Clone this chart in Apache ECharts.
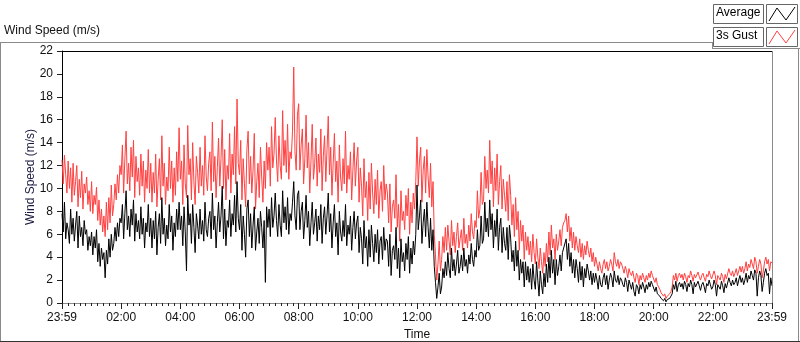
<!DOCTYPE html>
<html>
<head>
<meta charset="utf-8">
<script src="https://cdn.jsdelivr.net/npm/echarts@6/dist/echarts.min.js"></script>
<style>
  html, body { margin: 0; padding: 0; background: #fff; }
  #chart { width: 800px; height: 342px; }
</style>
</head>
<body>
<div id="chart"></div>
<script>
// one sample every 2.5 min, from 23:59 (minute 0) to 23:59 next day (minute 1440), one row per hour
var stepMin = 2.5;
var gust = [
  12.5, 10.4, 12.9, 11.2, 9.6, 12.4, 10.0, 11.8, 8.8, 12.2, 9.4, 10.6, 12.0, 8.4, 10.8, 9.2, 11.5, 8.2, 10.4, 9.6, 11.0, 8.6, 9.8, 8.0,
  10.6, 7.8, 9.4, 8.6, 10.1, 7.2, 9.0, 6.8, 8.2, 6.2, 7.6, 5.8, 8.8, 6.4, 9.2, 7.0, 10.3, 7.6, 8.6, 10.4, 9.0, 11.2, 9.6, 12.0,
  11.2, 13.8, 9.6, 12.6, 15.0, 10.4, 12.2, 9.8, 13.6, 11.0, 14.2, 9.2, 12.8, 10.6, 11.8, 9.4, 13.0, 10.2, 12.4, 8.8, 11.6, 10.0, 13.4, 9.6,
  12.2, 8.8, 11.4, 9.6, 13.0, 8.4, 10.8, 12.6, 9.0, 14.6, 10.2, 12.2, 8.6, 11.0, 9.8, 13.6, 10.0, 12.4, 8.8, 11.8, 9.4, 13.2, 10.6, 15.3,
  10.8, 12.4, 8.6, 13.8, 10.4, 9.2, 15.5, 11.2, 12.6, 9.0, 14.0, 10.6, 8.6, 12.8, 11.4, 9.6, 13.6, 10.2, 12.0, 9.4, 14.6, 11.0, 9.8, 12.2,
  13.2, 9.8, 15.8, 10.6, 12.8, 9.2, 11.8, 14.4, 10.2, 12.6, 16.0, 10.0, 13.4, 9.0, 12.0, 10.8, 14.8, 9.6, 13.0, 11.2, 15.4, 10.4, 17.8, 12.2,
  11.2, 14.2, 9.0, 12.6, 10.4, 8.4, 13.4, 15.0, 10.4, 12.8, 9.6, 11.6, 14.8, 8.2, 10.6, 12.2, 9.2, 13.6, 11.0, 8.8, 12.4, 10.0, 14.0, 11.6,
  13.6, 10.2, 15.4, 11.8, 13.0, 16.2, 12.4, 10.6, 14.6, 12.0, 10.8, 16.8, 12.0, 14.2, 11.4, 15.6, 10.8, 13.2, 12.6, 15.0, 20.6, 13.2, 11.6, 16.4,
  17.4, 11.6, 13.8, 15.2, 10.4, 12.6, 16.4, 11.8, 14.0, 9.6, 12.4, 15.6, 10.8, 12.2, 14.4, 10.2, 13.0, 11.4, 15.2, 9.8, 12.8, 14.6, 10.6, 13.4,
  16.3, 11.2, 13.6, 9.4, 12.2, 14.8, 10.6, 12.4, 8.8, 13.8, 11.0, 9.8, 12.6, 10.4, 15.0, 9.6, 12.0, 10.8, 13.2, 9.0, 11.6, 14.0, 10.2, 12.4,
  13.6, 8.8, 11.8, 10.2, 7.6, 12.6, 9.2, 10.6, 7.2, 11.4, 8.2, 12.2, 9.6, 7.8, 10.8, 8.6, 11.6, 7.4, 9.8, 10.6, 8.0, 12.0, 9.0, 10.4,
  9.6, 7.0, 10.4, 6.2, 8.4, 9.0, 7.4, 11.2, 6.6, 8.6, 5.4, 9.8, 7.2, 8.0, 6.4, 9.4, 7.6, 10.0, 6.0, 8.8, 7.0, 9.6, 8.2, 10.6,
  14.5, 10.2, 12.4, 13.6, 8.8, 11.6, 12.8, 9.6, 13.4, 11.0, 9.2, 12.2, 8.4, 10.6, 6.0, 4.2, 2.0, 3.4, 5.4, 2.8, 3.8, 5.8, 4.4, 6.6,
  4.6, 6.8, 5.4, 4.2, 7.2, 5.0, 6.2, 4.4, 5.8, 7.0, 4.8, 5.6, 6.4, 4.6, 7.4, 5.2, 6.0, 4.8, 6.8, 5.4, 7.8, 6.2, 5.6, 7.2,
  6.6, 9.8, 7.4, 8.2, 11.4, 8.6, 9.0, 12.8, 10.0, 11.6, 9.6, 14.2, 10.4, 12.4, 8.4, 11.8, 9.8, 13.0, 8.6, 10.6, 12.0, 8.2, 10.8, 9.4,
  8.0, 10.6, 7.2, 11.2, 9.4, 6.8, 8.6, 5.8, 9.2, 6.4, 8.0, 4.6, 7.2, 5.4, 6.8, 3.8, 6.2, 4.6, 5.8, 4.2, 5.4, 3.6, 6.0, 4.4,
  3.4, 5.6, 4.0, 3.0, 4.8, 3.6, 2.6, 4.4, 3.2, 5.2, 3.6, 6.2, 4.2, 6.8, 4.8, 5.6, 3.8, 6.0, 4.6, 5.4, 6.4, 5.0, 6.6, 7.0,
  7.2, 7.8, 6.2, 7.6, 5.4, 6.6, 4.8, 6.2, 4.6, 5.8, 5.0, 4.4, 5.6, 4.0, 5.2, 3.8, 5.0, 4.2, 5.4, 4.6, 4.0, 4.8, 3.6, 4.4,
  3.2, 4.0, 3.4, 2.8, 3.6, 3.0, 2.6, 3.4, 3.8, 3.0, 3.6, 2.8, 3.2, 3.8, 3.4, 2.8, 4.4, 3.6, 3.2, 3.8, 3.0, 3.6, 3.4, 3.0,
  2.6, 3.2, 2.8, 2.2, 3.0, 2.6, 2.4, 2.8, 2.2, 1.8, 2.6, 2.4, 1.6, 2.4, 2.0, 2.6, 2.2, 1.8, 2.4, 2.0, 2.6, 2.2, 2.8, 2.4,
  2.4, 1.8, 2.2, 1.6, 1.4, 1.2, 0.9, 1.0, 0.6, 0.8, 0.4, 0.6, 0.5, 0.8, 1.0, 1.4, 2.4, 2.0, 2.6, 1.9, 2.4, 2.6, 2.2, 2.5,
  2.0, 2.6, 2.3, 1.8, 2.4, 2.2, 2.8, 2.4, 1.9, 2.5, 2.2, 2.1, 2.7, 2.3, 2.0, 2.4, 2.6, 2.2, 1.9, 2.5, 2.3, 2.8, 2.4, 2.1,
  2.2, 2.8, 2.4, 1.6, 2.4, 2.2, 2.0, 2.6, 2.3, 1.8, 2.5, 2.1, 2.2, 3.0, 2.6, 2.4, 2.8, 2.3, 2.6, 3.0, 2.4, 2.8, 3.2, 2.7,
  3.2, 2.6, 3.0, 3.6, 2.8, 3.4, 3.1, 3.8, 3.4, 3.0, 4.0, 3.6, 2.6, 3.2, 3.8, 3.4, 2.2, 2.8, 3.6, 4.0, 3.4, 3.8, 2.8, 3.6,
  3.5
];
var average = [
  7.8, 6.2, 8.8, 5.6, 7.0, 6.4, 5.2, 8.2, 6.0, 7.4, 5.4, 6.8, 8.0, 4.8, 7.6, 5.8, 6.6, 5.0, 7.2, 6.0, 6.4, 4.6, 5.8, 5.0,
  6.2, 4.2, 5.8, 4.8, 6.4, 3.6, 5.2, 3.2, 4.8, 3.8, 4.4, 2.2, 4.6, 3.4, 5.6, 4.0, 6.0, 4.6, 5.2, 6.6, 5.4, 7.0, 5.8, 7.4,
  7.0, 8.6, 5.6, 7.8, 9.8, 6.4, 7.6, 5.8, 8.2, 6.8, 9.0, 5.4, 7.8, 6.2, 7.2, 5.6, 8.4, 6.0, 7.4, 4.8, 7.0, 6.2, 8.6, 5.8,
  7.4, 4.8, 7.2, 5.6, 8.0, 4.2, 6.6, 7.8, 5.2, 9.2, 6.0, 7.4, 5.0, 6.8, 5.6, 8.6, 6.2, 7.6, 4.6, 7.0, 5.8, 8.2, 6.4, 8.8,
  6.4, 7.6, 5.0, 8.4, 6.2, 2.8, 9.4, 6.8, 7.8, 5.2, 8.6, 6.6, 4.4, 7.8, 6.8, 5.6, 8.2, 6.0, 7.2, 5.4, 8.8, 6.4, 5.8, 7.4,
  8.0, 5.6, 9.6, 6.4, 7.6, 4.8, 7.0, 8.8, 6.2, 7.6, 10.2, 5.6, 8.2, 5.0, 7.2, 6.6, 9.0, 5.8, 7.8, 6.8, 9.4, 6.2, 10.6, 7.4,
  6.4, 8.6, 4.6, 7.6, 6.0, 4.0, 8.2, 9.0, 5.8, 7.8, 4.8, 6.8, 8.4, 4.6, 6.2, 7.4, 5.2, 8.0, 6.6, 4.8, 7.2, 1.8, 8.4, 6.6,
  8.2, 5.8, 9.2, 6.6, 7.6, 9.6, 7.2, 5.8, 8.6, 6.8, 5.8, 9.8, 7.0, 8.4, 6.4, 9.2, 6.0, 7.8, 7.2, 8.8, 10.6, 7.6, 6.4, 9.4,
  9.8, 6.4, 8.0, 8.8, 5.6, 7.2, 9.4, 6.6, 8.0, 5.0, 7.0, 8.8, 6.0, 7.0, 8.2, 5.4, 7.6, 6.4, 8.6, 5.2, 7.4, 8.4, 6.0, 7.6,
  9.6, 6.2, 7.8, 4.8, 7.0, 8.6, 5.8, 7.0, 4.2, 8.0, 6.2, 5.4, 7.2, 5.8, 8.6, 5.0, 6.8, 6.0, 7.6, 4.6, 6.6, 8.0, 5.6, 7.0,
  7.6, 4.4, 6.6, 5.6, 3.4, 7.2, 4.8, 5.8, 3.2, 6.4, 4.0, 6.8, 5.2, 3.6, 6.0, 4.4, 6.4, 3.4, 5.4, 5.8, 3.8, 6.6, 4.6, 5.6,
  5.4, 3.2, 6.0, 2.4, 4.6, 5.0, 3.8, 6.6, 3.0, 4.8, 2.2, 5.6, 3.6, 4.4, 2.8, 5.2, 3.8, 5.8, 2.6, 4.8, 3.4, 5.4, 4.2, 6.0,
  10.3, 6.4, 7.6, 9.0, 5.2, 7.0, 8.2, 5.8, 8.8, 6.6, 4.8, 7.4, 4.6, 6.4, 3.2, 1.8, 0.4, 1.4, 2.6, 0.8, 1.4, 3.0, 2.2, 3.6,
  2.4, 4.4, 3.0, 2.2, 4.8, 2.8, 3.8, 2.4, 3.4, 4.6, 2.6, 3.2, 4.2, 2.8, 4.8, 3.2, 3.8, 2.6, 4.2, 3.4, 5.2, 3.8, 3.2, 4.6,
  4.0, 6.4, 4.6, 5.0, 7.6, 5.2, 5.6, 8.8, 6.2, 7.4, 5.8, 9.0, 6.4, 7.8, 4.8, 7.2, 5.8, 8.2, 4.6, 6.6, 7.4, 4.4, 6.6, 5.2,
  4.6, 6.6, 3.8, 6.8, 5.6, 3.6, 4.6, 2.8, 5.4, 3.2, 4.6, 2.0, 3.8, 2.6, 3.6, 1.4, 3.6, 2.0, 3.2, 1.8, 3.0, 1.2, 3.4, 2.0,
  1.2, 3.6, 2.0, 0.6, 2.8, 1.6, 0.8, 2.6, 1.4, 3.4, 1.8, 4.0, 2.2, 4.6, 2.6, 3.8, 1.6, 3.8, 2.4, 3.2, 4.2, 2.8, 4.4, 4.8,
  4.8, 5.6, 3.8, 5.2, 3.2, 4.4, 2.6, 3.8, 2.2, 3.8, 3.0, 1.8, 3.6, 2.0, 3.2, 1.4, 3.0, 2.2, 3.4, 2.8, 2.0, 2.8, 1.6, 2.6,
  1.8, 2.6, 2.0, 1.2, 2.4, 1.6, 1.4, 2.2, 2.6, 1.6, 2.4, 1.2, 2.0, 2.6, 2.2, 1.4, 2.8, 2.0, 1.8, 2.4, 1.6, 2.2, 2.0, 1.6,
  1.4, 2.2, 1.8, 1.0, 2.0, 1.6, 1.2, 1.8, 1.0, 0.6, 1.6, 1.4, 0.8, 1.6, 1.2, 1.8, 1.4, 0.9, 1.6, 1.2, 1.8, 1.4, 1.9, 1.6,
  1.6, 1.0, 1.4, 0.8, 0.8, 0.6, 0.4, 0.5, 0.2, 0.4, 0.1, 0.3, 0.2, 0.4, 0.6, 0.8, 1.6, 1.2, 1.9, 1.0, 1.6, 1.8, 1.4, 1.7,
  1.2, 1.9, 1.6, 1.0, 1.7, 1.4, 2.0, 1.6, 0.8, 1.8, 1.4, 1.3, 1.9, 1.5, 1.1, 1.6, 1.8, 1.4, 0.9, 1.7, 1.5, 2.0, 1.6, 1.2,
  1.4, 2.0, 1.6, 0.6, 1.6, 1.4, 1.2, 1.9, 1.5, 0.9, 1.7, 1.3, 1.4, 2.2, 1.8, 1.5, 2.0, 1.6, 1.8, 2.2, 1.5, 2.0, 2.4, 1.8,
  2.2, 1.6, 2.0, 2.6, 1.8, 2.4, 2.1, 2.8, 2.4, 2.0, 2.9, 2.6, 0.6, 2.2, 2.8, 2.4, 1.0, 1.8, 2.6, 3.0, 2.4, 2.6, 0.8, 2.2,
  1.5
];
var legendNames = ['Average', '3s Gust'];

function toPairs(arr) {
  var out = [];
  for (var i = 0; i < arr.length; i++) out.push([i * stepMin, arr[i]]);
  return out;
}
function timeLabel(v) {
  if (v === 0 || v === 1440) return '23:59';
  var h = Math.round(v / 60);
  return (h < 10 ? '0' : '') + h + ':00';
}

var font = 'Liberation Sans';
var gray = '#8a8a8a';
var myChart = echarts.init(document.getElementById('chart'));
var L = 62, T = 51, R = 772, B = 303;

var option = {
  animation: false,
  backgroundColor: '#fff',
  grid: { left: L, top: T, width: R - L, height: B - T, containLabel: false, outerBoundsMode: 'none' },
  xAxis: {
    type: 'value', min: 0, max: 1440, interval: 120,
    name: 'Time', nameLocation: 'middle', nameGap: 26, nameMoveOverlap: false,
    nameTextStyle: { color: '#111', fontFamily: font, fontSize: 12 },
    axisLine: { lineStyle: { color: gray, width: 1 } },
    axisTick: { length: 6, lineStyle: { color: '#222' } },
    minorTick: { show: true, splitNumber: 10, length: 3, lineStyle: { color: '#222' } },
    axisLabel: { formatter: timeLabel, color: '#111', fontFamily: font, fontSize: 12, margin: 9, showMinLabel: true, showMaxLabel: true },
    splitLine: { show: false }
  },
  yAxis: {
    type: 'value', min: 0, max: 22, interval: 2,
    name: 'Wind Speed (m/s)', nameLocation: 'middle', nameGap: 25, nameRotate: 90, nameMoveOverlap: false,
    nameTextStyle: { color: '#1a1a40', fontFamily: font, fontSize: 12 },
    axisLine: { show: true, lineStyle: { color: '#000', width: 1 } },
    axisTick: { show: true, length: 5, lineStyle: { color: '#222' } },
    axisLabel: { color: '#111', fontFamily: font, fontSize: 12, margin: 9 },
    splitLine: { show: false }
  },
  series: [
    {
      name: legendNames[1], type: 'line', data: toPairs(gust), showSymbol: false,
      lineStyle: { color: '#ff4040', width: 1 }, z: 2
    },
    {
      name: legendNames[0], type: 'line', data: toPairs(average), showSymbol: false,
      lineStyle: { color: '#000', width: 1 }, z: 3
    }
  ],
  graphic: [
    { type: 'text', left: 4, top: 25, style: { text: 'Wind Speed (m/s)', font: '12px ' + font, fill: '#111' } },
    // outer frame
    { type: 'line', shape: { x1: 0, y1: 42.5, x2: 712, y2: 42.5 }, style: { stroke: gray, lineWidth: 1 } },
    { type: 'line', shape: { x1: 712, y1: 48.5, x2: 800, y2: 48.5 }, style: { stroke: gray, lineWidth: 1 } },
    { type: 'line', shape: { x1: 712.5, y1: 42, x2: 712.5, y2: 49 }, style: { stroke: gray, lineWidth: 1 } },
    { type: 'line', shape: { x1: 0.5, y1: 42, x2: 0.5, y2: 342 }, style: { stroke: gray, lineWidth: 1 } },
    { type: 'line', shape: { x1: 798.5, y1: 48, x2: 798.5, y2: 342 }, style: { stroke: gray, lineWidth: 1 } },
    { type: 'line', shape: { x1: 0, y1: 341.5, x2: 800, y2: 341.5 }, style: { stroke: '#333', lineWidth: 1 } },
    // plot frame: top black, right gray
    { type: 'line', shape: { x1: L, y1: T + 0.5, x2: R, y2: T + 0.5 }, style: { stroke: '#000', lineWidth: 1 }, z: 10 },
    { type: 'line', shape: { x1: R + 0.5, y1: T, x2: R + 0.5, y2: B }, style: { stroke: gray, lineWidth: 1 }, z: 10 },
    // legend
    { type: 'rect', shape: { x: 713.5, y: 4.5, width: 50, height: 19 }, style: { fill: '#fff', stroke: '#666', lineWidth: 1 } },
    { type: 'text', left: 716, top: 7, style: { text: legendNames[0], font: '12px ' + font, fill: '#000' } },
    { type: 'rect', shape: { x: 766.5, y: 4.5, width: 31, height: 19 }, style: { fill: '#fff', stroke: '#666', lineWidth: 1 } },
    { type: 'polyline', shape: { points: [[769, 21], [777, 8], [786, 20], [795, 7]] }, style: { stroke: '#000', lineWidth: 1, fill: null } },
    { type: 'rect', shape: { x: 713.5, y: 27.5, width: 50, height: 19 }, style: { fill: '#fff', stroke: '#666', lineWidth: 1 } },
    { type: 'text', left: 716, top: 30, style: { text: legendNames[1], font: '12px ' + font, fill: '#000' } },
    { type: 'rect', shape: { x: 766.5, y: 27.5, width: 31, height: 19 }, style: { fill: '#fff', stroke: '#666', lineWidth: 1 } },
    { type: 'polyline', shape: { points: [[769, 44], [777, 31], [786, 43], [795, 30]] }, style: { stroke: '#ff4040', lineWidth: 1, fill: null } }
  ]
};
myChart.setOption(option);
</script>
</body>
</html>
